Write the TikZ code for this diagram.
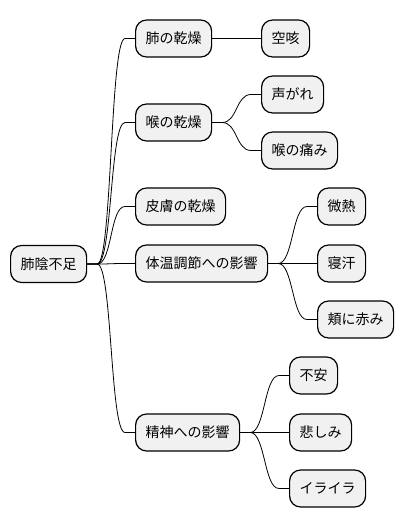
\documentclass[tikz,border=0pt]{standalone}
\usepackage{fontspec}
\setmainfont{Noto Sans CJK JP}
\usetikzlibrary{calc}
\tikzset{
  topic/.style={draw=black, line width=1.2bp, fill=boxgray, rounded corners=11bp,
    anchor=west, inner xsep=10bp, inner ysep=0pt, minimum height=37bp,
    font=\fontsize{14bp}{16bp}\selectfont},
  conn/.style={draw=black, line width=0.8bp},
}
\definecolor{boxgray}{HTML}{F1F1F1}
\newcommand{\linkto}[2]{\draw[conn] (#1.east) -- ++(10,0) .. controls +(15,0) and +(-15,0) .. ($(#2.west)+(-10,0)$) -- (#2.west);}
\begin{document}
\begin{tikzpicture}[x=1bp, y=-1bp]
\useasboundingbox (0,0) rectangle (404,527);
\node[topic] (root) at (10,264) {肺陰不足};
\node[topic] (a) at (135,38.5) {肺の乾燥};
\node[topic] (a1) at (261,38.5) {空咳};
\node[topic] (b) at (135,122.5) {喉の乾燥};
\node[topic] (b1) at (261,94.5) {声がれ};
\node[topic] (b2) at (261,150.5) {喉の痛み};
\node[topic] (c) at (135,206.5) {皮膚の乾燥};
\node[topic] (d) at (135,263.5) {体温調節への影響};
\node[topic] (d1) at (317,206.5) {微熱};
\node[topic] (d2) at (317,263.5) {寝汗};
\node[topic] (d3) at (317,319.5) {頬に赤み};
\node[topic] (e) at (135,432.5) {精神への影響};
\node[topic] (e1) at (289,375.5) {不安};
\node[topic] (e2) at (289,432.5) {悲しみ};
\node[topic] (e3) at (289,488.5) {イライラ};
\linkto{root}{a}
\linkto{root}{b}
\linkto{root}{c}
\linkto{root}{d}
\linkto{root}{e}
\linkto{a}{a1}
\linkto{b}{b1}
\linkto{b}{b2}
\linkto{d}{d1}
\linkto{d}{d2}
\linkto{d}{d3}
\linkto{e}{e1}
\linkto{e}{e2}
\linkto{e}{e3}
\end{tikzpicture}
\end{document}
